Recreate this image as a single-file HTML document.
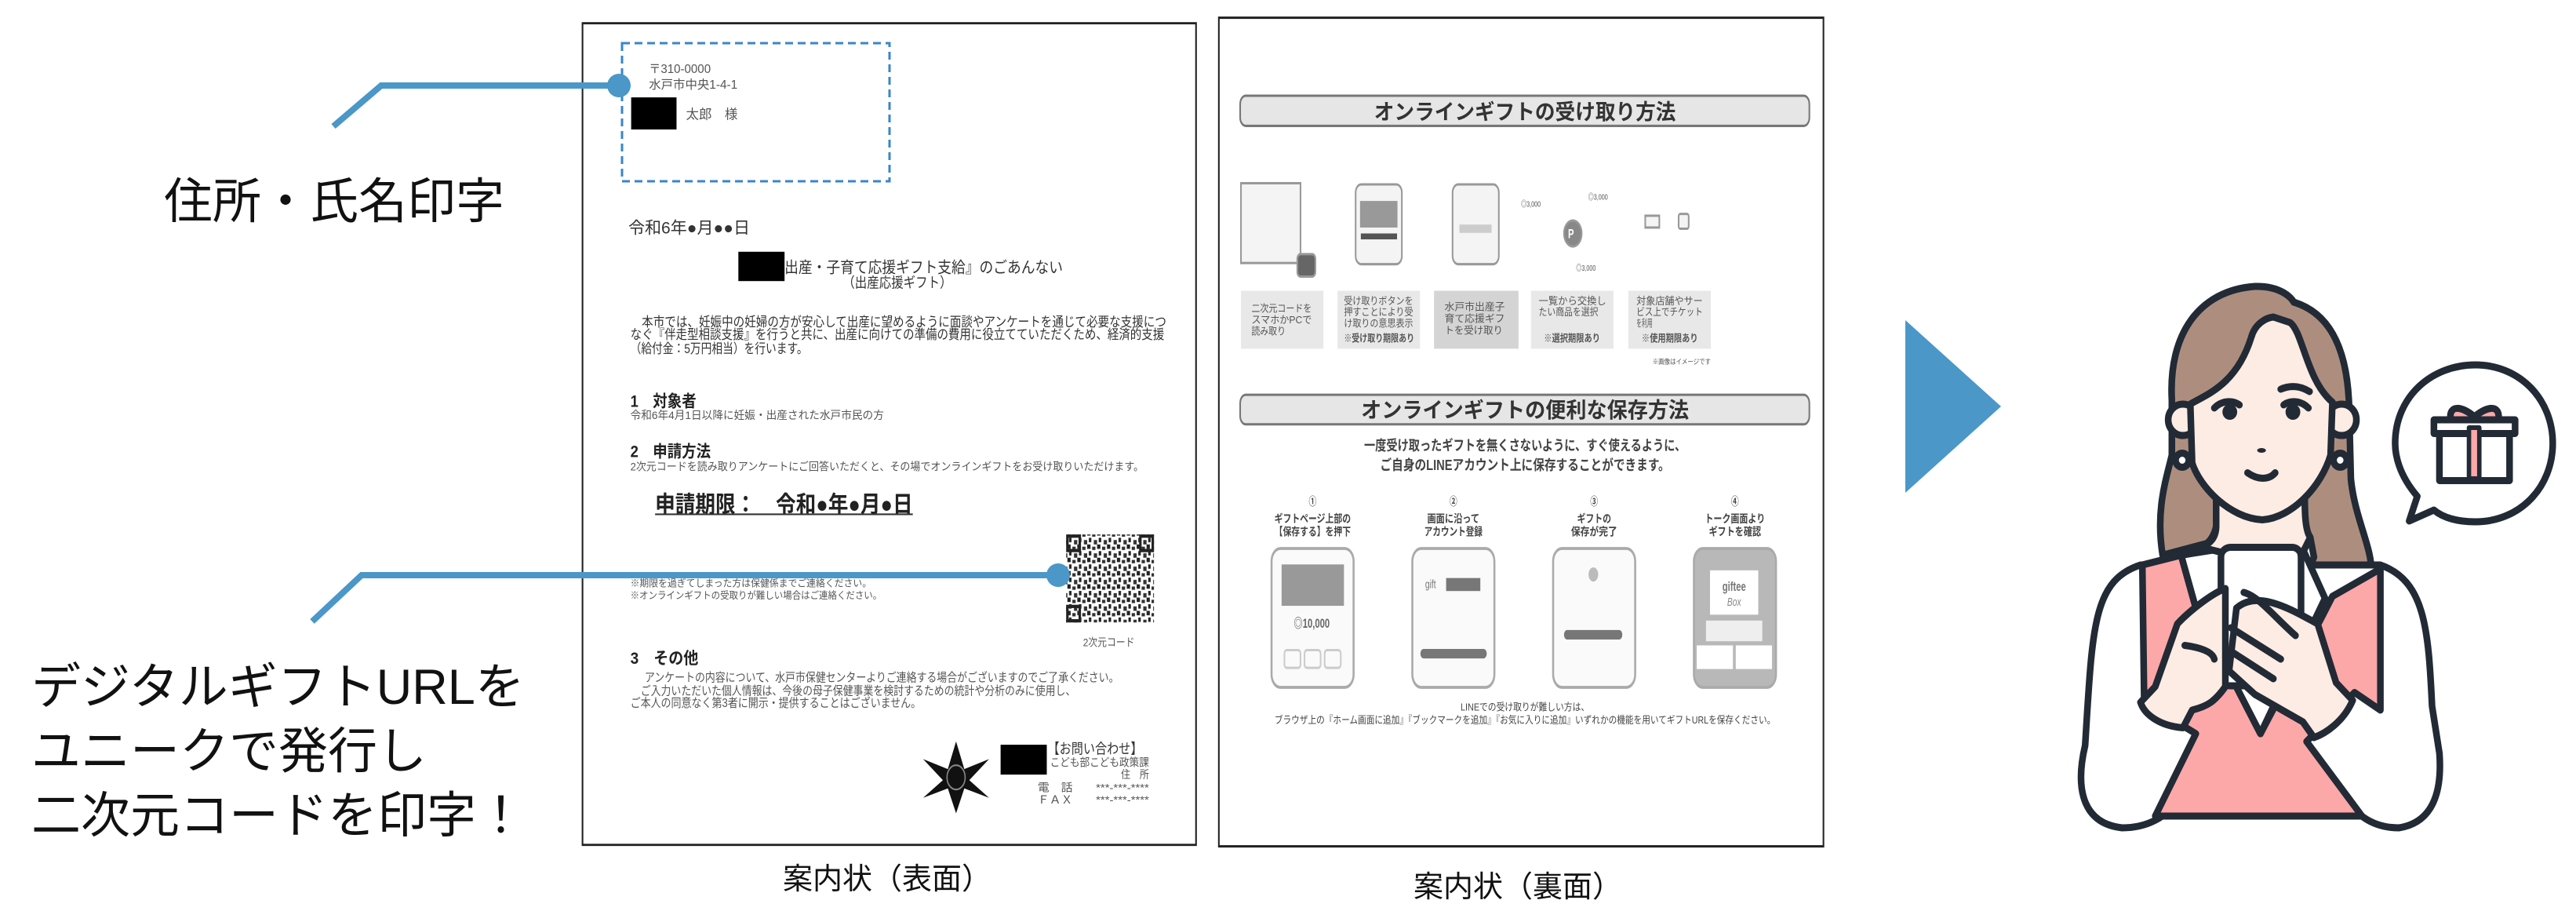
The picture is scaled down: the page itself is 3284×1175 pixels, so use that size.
<!DOCTYPE html>
<html><head><meta charset="utf-8"><style>
html,body{margin:0;padding:0;background:#fff;}
body{width:3284px;height:1175px;position:relative;overflow:hidden;font-family:"Liberation Sans","Noto Sans CJK JP",sans-serif;color:#111;}
.abs{position:absolute;}
.lbl{font-size:62px;white-space:nowrap;line-height:1;}
.cap{font-size:38px;white-space:nowrap;transform:translateX(-50%);line-height:1;}
svg{position:absolute;overflow:visible;}
</style></head><body>

<div class="abs lbl" style="left:209px;top:227px;">住所・氏名印字</div>
<div class="abs lbl" style="left:40px;top:835px;line-height:82px;font-size:63px;">デジタルギフトURLを<br>ユニークで発行し<br>二次元コードを印字！</div>

<div class="abs cap" style="left:1131px;top:1102px;">案内状（表面）</div>
<div class="abs cap" style="left:1935px;top:1112px;">案内状（裏面）</div>

<!-- Doc 1 -->
<svg style="left:730px;top:0" width="820" height="1100" viewBox="0 0 1560 1560" preserveAspectRatio="none">
<defs><pattern id="qr" width="24" height="24" patternUnits="userSpaceOnUse"><rect width="24" height="24" fill="#fff"/><rect x="0" y="0" width="8" height="8" fill="#222"/><rect x="12" y="4" width="8" height="6" fill="#333"/><rect x="4" y="12" width="6" height="8" fill="#222"/><rect x="16" y="16" width="8" height="8" fill="#333"/></pattern></defs>
<rect x="24" y="42" width="1488" height="1485" fill="#fff" stroke="#222" stroke-width="4"/>
<g fill="#555" font-family="Liberation Sans, Noto Sans CJK JP, sans-serif" lengthAdjust="spacingAndGlyphs">
<text x="185" y="132" font-size="22" textLength="150" lengthAdjust="spacingAndGlyphs">〒310-0000</text>
<text x="185" y="160" font-size="22" textLength="215" lengthAdjust="spacingAndGlyphs">水戸市中央1-4-1</text>
<rect x="142" y="176" width="110" height="58" fill="#000"/>
<text x="275" y="215" font-size="24" textLength="125" lengthAdjust="spacingAndGlyphs">太郎　様</text>
<text x="135" y="422" font-size="30" textLength="295" lengthAdjust="spacingAndGlyphs" fill="#333">令和6年●月●●日</text>
<rect x="402" y="455" width="112" height="53" fill="#000"/>
<text x="514" y="493" font-size="28" textLength="675" lengthAdjust="spacingAndGlyphs" fill="#333">出産・子育て応援ギフト支給』のごあんない</text>
<text x="655" y="520" font-size="26" textLength="265" lengthAdjust="spacingAndGlyphs" fill="#333">（出産応援ギフト）</text>
<text x="140" y="590" font-size="24" textLength="1300" lengthAdjust="spacingAndGlyphs" fill="#333">　本市では、妊娠中の妊婦の方が安心して出産に望めるように面談やアンケートを通じて必要な支援につ</text>
<text x="140" y="613" font-size="24" textLength="1295" lengthAdjust="spacingAndGlyphs" fill="#333">なぐ『伴走型相談支援』を行うと共に、出産に向けての準備の費用に役立てていただくため、経済的支援</text>
<text x="140" y="638" font-size="24" textLength="430" lengthAdjust="spacingAndGlyphs" fill="#333">（給付金：5万円相当）を行います。</text>
<text x="140" y="735" font-size="30" font-weight="bold" textLength="160" lengthAdjust="spacingAndGlyphs" fill="#222">1　対象者</text>
<text x="140" y="757" font-size="20" textLength="615" lengthAdjust="spacingAndGlyphs">令和6年4月1日以降に妊娠・出産された水戸市民の方</text>
<text x="140" y="826" font-size="30" font-weight="bold" textLength="195" lengthAdjust="spacingAndGlyphs" fill="#222">2　申請方法</text>
<text x="140" y="850" font-size="20" textLength="1245" lengthAdjust="spacingAndGlyphs">2次元コードを読み取りアンケートにご回答いただくと、その場でオンラインギフトをお受け取りいただけます。</text>
<text x="200" y="926" font-size="42" font-weight="bold" textLength="625" lengthAdjust="spacingAndGlyphs" fill="#222">申請期限：　令和●年●月●日</text>
<rect x="200" y="928" width="625" height="3" fill="#333"/>
<text x="140" y="1060" font-size="18" textLength="585" lengthAdjust="spacingAndGlyphs">※期限を過ぎてしまった方は保健係までご連絡ください。</text>
<text x="140" y="1082" font-size="18" textLength="610" lengthAdjust="spacingAndGlyphs">※オンラインギフトの受取りが難しい場合はご連絡ください。</text>
<rect x="1197" y="966" width="213" height="159" fill="url(#qr)"/>
<rect x="1200" y="969" width="30" height="26" fill="none" stroke="#222" stroke-width="6"/>
<rect x="1377" y="969" width="30" height="26" fill="none" stroke="#222" stroke-width="6"/>
<rect x="1200" y="1096" width="30" height="26" fill="none" stroke="#222" stroke-width="6"/>
<text x="1238" y="1168" font-size="20" textLength="125" lengthAdjust="spacingAndGlyphs">2次元コード</text>
<text x="140" y="1200" font-size="30" font-weight="bold" textLength="165" lengthAdjust="spacingAndGlyphs" fill="#222">3　その他</text>
<text x="175" y="1232" font-size="22" textLength="1150" lengthAdjust="spacingAndGlyphs">アンケートの内容について、水戸市保健センターよりご連絡する場合がございますのでご了承ください。</text>
<text x="165" y="1256" font-size="22" textLength="1055" lengthAdjust="spacingAndGlyphs">ご入力いただいた個人情報は、今後の母子保健事業を検討するための統計や分析のみに使用し、</text>
<text x="140" y="1278" font-size="22" textLength="705" lengthAdjust="spacingAndGlyphs">ご本人の同意なく第3者に開示・提供することはございません。</text>
<polygon points="930,1340 950,1390 1010,1372 962,1410 1010,1442 950,1425 930,1470 910,1425 850,1442 898,1410 850,1372 910,1390" fill="#111"/>
<circle cx="930" cy="1405" r="22" fill="none" stroke="#888" stroke-width="3"/>
<rect x="1038" y="1346" width="112" height="54" fill="#000"/>
<text x="1152" y="1362" font-size="26" textLength="230" lengthAdjust="spacingAndGlyphs" fill="#333">【お問い合わせ】</text>
<text x="1158" y="1385" font-size="20" textLength="240" lengthAdjust="spacingAndGlyphs">こども部こども政策課</text>
<text x="1330" y="1407" font-size="20" textLength="68" lengthAdjust="spacingAndGlyphs">住　所</text>
<text x="1128" y="1430" font-size="20" textLength="270" lengthAdjust="spacingAndGlyphs">電　話　　***-***-****</text>
<text x="1128" y="1452" font-size="20" textLength="270" lengthAdjust="spacingAndGlyphs">ＦＡＸ　　***-***-****</text>
</g>
</svg>

<!-- Doc 2 -->
<svg style="left:1540px;top:0" width="800" height="1175" viewBox="0 0 1560 1560" preserveAspectRatio="none">
<rect x="27" y="30" width="1503" height="1402" fill="#fff" stroke="#222" stroke-width="4"/>
<g font-family="Liberation Sans, Noto Sans CJK JP, sans-serif" fill="#444">
<rect x="80" y="162" width="1415" height="51" rx="14" fill="#e6e6e6" stroke="#777" stroke-width="4"/>
<text x="788" y="202" font-size="36" font-weight="bold" text-anchor="middle" textLength="750" lengthAdjust="spacingAndGlyphs" fill="#333">オンラインギフトの受け取り方法</text>
<!-- icons -->
<g fill="#f4f4f4" stroke="#999" stroke-width="4">
<rect x="82" y="310" width="148" height="135"/>
<rect x="222" y="430" width="45" height="38" rx="8" fill="#666"/>
<rect x="367" y="312" width="115" height="135" rx="14"/>
<rect x="378" y="340" width="93" height="45" fill="#999" stroke="none"/>
<rect x="380" y="395" width="90" height="10" fill="#555" stroke="none"/>
<rect x="608" y="312" width="115" height="135" rx="14"/>
<rect x="625" y="380" width="80" height="14" fill="#ccc" stroke="none"/>
<circle cx="907" cy="395" r="22" fill="#888"/>
<rect x="1087" y="365" width="35" height="20"/>
<rect x="1170" y="362" width="25" height="25" rx="4"/>
</g>
<text x="778" y="350" font-size="14" fill="#555">◎3,000</text>
<text x="945" y="338" font-size="14" fill="#555">◎3,000</text>
<text x="915" y="458" font-size="14" fill="#555">◎3,000</text>
<text x="895" y="403" font-size="22" fill="#fff" font-weight="bold">P</text>
<g fill="#e8e8e8">
<rect x="82" y="492" width="205" height="98"/>
<rect x="322" y="492" width="205" height="98"/>
<rect x="562" y="492" width="210" height="98" fill="#d4d4d4"/>
<rect x="803" y="492" width="205" height="98"/>
<rect x="1045" y="492" width="205" height="98"/>
</g>
<g font-size="17" fill="#555">
<text x="108" y="528" textLength="150" lengthAdjust="spacingAndGlyphs">二次元コードを</text>
<text x="108" y="547" textLength="150" lengthAdjust="spacingAndGlyphs">スマホかPCで</text>
<text x="108" y="566" textLength="85" lengthAdjust="spacingAndGlyphs">読み取り</text>
<text x="338" y="515" textLength="172" lengthAdjust="spacingAndGlyphs">受け取りボタンを</text>
<text x="338" y="534" textLength="172" lengthAdjust="spacingAndGlyphs">押すことにより受</text>
<text x="338" y="553" textLength="172" lengthAdjust="spacingAndGlyphs">け取りの意思表示</text>
<text x="338" y="578" textLength="175" lengthAdjust="spacingAndGlyphs" font-weight="bold">※受け取り期限あり</text>
<text x="588" y="525" textLength="150" lengthAdjust="spacingAndGlyphs">水戸市出産子</text>
<text x="588" y="545" textLength="150" lengthAdjust="spacingAndGlyphs">育て応援ギフ</text>
<text x="588" y="565" textLength="145" lengthAdjust="spacingAndGlyphs">トを受け取り</text>
<text x="822" y="515" textLength="168" lengthAdjust="spacingAndGlyphs">一覧から交換し</text>
<text x="822" y="534" textLength="148" lengthAdjust="spacingAndGlyphs">たい商品を選択</text>
<text x="835" y="578" textLength="140" lengthAdjust="spacingAndGlyphs" font-weight="bold">※選択期限あり</text>
<text x="1065" y="515" textLength="165" lengthAdjust="spacingAndGlyphs">対象店舗やサー</text>
<text x="1065" y="534" textLength="165" lengthAdjust="spacingAndGlyphs">ビス上でチケット</text>
<text x="1065" y="553" textLength="40" lengthAdjust="spacingAndGlyphs">を利用</text>
<text x="1078" y="578" textLength="140" lengthAdjust="spacingAndGlyphs" font-weight="bold">※使用期限あり</text>
<text x="1105" y="616" font-size="12" textLength="145" lengthAdjust="spacingAndGlyphs">※画像はイメージです</text>
</g>
<rect x="80" y="668" width="1415" height="50" rx="14" fill="#e6e6e6" stroke="#777" stroke-width="4"/>
<text x="788" y="706" font-size="36" font-weight="bold" text-anchor="middle" textLength="815" lengthAdjust="spacingAndGlyphs" fill="#333">オンラインギフトの便利な保存方法</text>
<text x="788" y="762" font-size="24" font-weight="bold" text-anchor="middle" textLength="800" lengthAdjust="spacingAndGlyphs">一度受け取ったギフトを無くさないように、すぐ使えるように、</text>
<text x="788" y="795" font-size="24" font-weight="bold" text-anchor="middle" textLength="720" lengthAdjust="spacingAndGlyphs">ご自身のLINEアカウント上に保存することができます。</text>
<g font-size="19" font-weight="bold" text-anchor="middle" fill="#444">
<text x="260" y="855">①</text><text x="610" y="855">②</text><text x="960" y="855">③</text><text x="1310" y="855">④</text>
<text x="260" y="884" textLength="190" lengthAdjust="spacingAndGlyphs">ギフトページ上部の</text>
<text x="260" y="906" textLength="190" lengthAdjust="spacingAndGlyphs">【保存する】を押下</text>
<text x="610" y="884" textLength="130" lengthAdjust="spacingAndGlyphs">画面に沿って</text>
<text x="610" y="906" textLength="145" lengthAdjust="spacingAndGlyphs">アカウント登録</text>
<text x="960" y="884" textLength="85" lengthAdjust="spacingAndGlyphs">ギフトの</text>
<text x="960" y="906" textLength="115" lengthAdjust="spacingAndGlyphs">保存が完了</text>
<text x="1310" y="884" textLength="150" lengthAdjust="spacingAndGlyphs">トーク画面より</text>
<text x="1310" y="906" textLength="130" lengthAdjust="spacingAndGlyphs">ギフトを確認</text>
</g>
<g fill="#fafafa" stroke="#aaa" stroke-width="5">
<rect x="158" y="928" width="204" height="235" rx="22"/>
<rect x="508" y="928" width="204" height="235" rx="22"/>
<rect x="858" y="928" width="204" height="235" rx="22"/>
<rect x="1208" y="928" width="204" height="235" rx="22" fill="#b8b8b8"/>
</g>
<rect x="183" y="955" width="155" height="70" fill="#999"/>
<text x="258" y="1062" font-size="22" font-weight="bold" text-anchor="middle" fill="#666">◎10,000</text>
<g fill="none" stroke="#ccc" stroke-width="4"><rect x="190" y="1100" width="40" height="30" rx="6"/><rect x="240" y="1100" width="40" height="30" rx="6"/><rect x="290" y="1100" width="40" height="30" rx="6"/></g>
<text x="540" y="995" font-size="20" fill="#777">gift</text>
<rect x="592" y="978" width="85" height="22" fill="#777"/>
<rect x="528" y="1098" width="165" height="16" rx="8" fill="#777"/>
<circle cx="958" cy="972" r="12" fill="#bbb"/>
<rect x="885" y="1066" width="145" height="16" rx="8" fill="#777"/>
<rect x="1248" y="965" width="120" height="75" fill="#fff"/>
<text x="1308" y="1000" font-size="22" font-weight="bold" text-anchor="middle" fill="#777">giftee</text>
<text x="1308" y="1025" font-size="20" text-anchor="middle" fill="#888" font-style="italic">Box</text>
<rect x="1238" y="1050" width="140" height="35" fill="#eee"/>
<rect x="1215" y="1092" width="90" height="40" fill="#fff"/><rect x="1312" y="1092" width="90" height="40" fill="#fff"/>
<text x="788" y="1202" font-size="17" text-anchor="middle" textLength="320" lengthAdjust="spacingAndGlyphs">LINEでの受け取りが難しい方は、</text>
<text x="788" y="1224" font-size="17" text-anchor="middle" textLength="1245" lengthAdjust="spacingAndGlyphs">ブラウザ上の『ホーム画面に追加』『ブックマークを追加』『お気に入りに追加』いずれかの機能を用いてギフトURLを保存ください。</text>
</g>
</svg>

<!-- connectors & arrow -->
<svg style="left:0;top:0" width="3284" height="1175">
<rect x="793" y="55" width="341" height="176" fill="none" stroke="#3a86c8" stroke-width="3" stroke-dasharray="10 6"/>
<polyline points="425,161 486,109 789,109" fill="none" stroke="#4a97c8" stroke-width="8"/>
<circle cx="789" cy="109" r="15" fill="#4a97c8"/>
<polyline points="398,792 461,733 1349,733" fill="none" stroke="#4a97c8" stroke-width="8"/>
<circle cx="1349" cy="733" r="15" fill="#4a97c8"/>
<polygon points="2429,408 2551,518 2429,628" fill="#4a97c8"/>
</svg>

<!-- woman -->
<svg style="left:2550px;top:300px" width="734" height="780" viewBox="0 0 1560 1560" preserveAspectRatio="none">
<g stroke="#222a35" stroke-width="18" stroke-linejoin="round" stroke-linecap="round">
<path d="M465 420 C455 250 540 140 690 130 C760 128 790 160 795 170 C900 200 940 300 945 430 L950 620 C960 720 1010 800 1005 860 C1000 920 950 935 900 925 L850 910 C860 880 830 860 850 820 L840 770 C820 740 820 700 820 670 L590 670 C590 720 590 760 560 785 L440 815 C420 700 450 620 465 560 Z" fill="#ad8e7e"/>
<path d="M230 1300 C250 1000 250 880 380 840 L1030 840 C1150 880 1160 1000 1170 1200 L1190 1320 C1200 1450 1150 1500 1080 1510 C1000 1510 960 1470 920 1420 L500 1420 C450 1490 390 1510 330 1510 C230 1500 200 1420 230 1300 Z" fill="#fff"/>
<path d="M385 840 L490 815 L530 950 L705 1270 L870 975 L900 920 L1030 850 L1030 1210 L960 1165 L830 1290 L980 1480 L420 1480 L530 1270 L390 1190 Z" fill="#fca8a8"/>
<path d="M490 815 L590 800 L820 800 L880 925 L705 1270 L530 950 Z" fill="#fff"/>
<path d="M585 650 L585 740 C585 770 570 785 545 795 L600 808 L820 808 L840 770 C825 750 825 700 825 650 Z" fill="#fdece4"/>
<circle cx="495" cy="470" r="40" fill="#fdece4"/>
<circle cx="925" cy="470" r="40" fill="#fdece4"/>
<path d="M515 430 C560 405 640 380 680 260 C690 225 720 210 740 208 L785 222 C820 245 830 370 900 425 L895 560 C870 640 790 720 710 725 C620 720 540 640 520 580 Z" fill="#fdece4"/>
<circle cx="493" cy="573" r="18" fill="#fff"/>
<circle cx="921" cy="573" r="18" fill="#fff"/>
<path d="M580 440 C600 420 630 420 648 432" fill="none"/>
<path d="M768 432 C785 420 815 420 835 440" fill="none"/>
<path d="M760 392 C790 380 815 385 838 398" fill="none"/>
<path d="M670 605 C700 625 730 622 745 605" fill="none"/>
<path d="M598 820 L598 1130 C598 1145 610 1148 625 1148 L800 1148 C812 1148 815 1140 815 1130 L815 820 C815 805 805 795 790 795 L625 795 C610 795 598 805 598 820 Z" fill="#fff"/>
<path d="M480 990 C520 950 580 910 610 900 L610 1150 C580 1190 560 1200 520 1210 L495 1255 C430 1250 390 1220 380 1190 L420 1150 Z" fill="#fdece4"/>
<path d="M640 950 C700 900 800 960 860 990 L910 1140 L955 1185 C930 1240 880 1270 850 1280 L820 1240 L690 1170 L620 1110 Z" fill="#fdece4"/>
<path d="M660 910 C700 920 740 970 800 1020" fill="none"/>
<path d="M625 1000 L760 1080 M625 1060 L740 1130 M500 1045 C540 1050 575 1060 580 1080" fill="none"/>
<path d="M1130 665 C1080 610 1070 560 1070 530 C1070 410 1170 330 1287 330 C1410 330 1497 420 1497 530 C1497 640 1410 730 1287 730 C1240 730 1200 720 1175 700 L1108 728 Z" fill="#fff"/>
<path d="M1220 470 C1215 430 1250 435 1285 462 C1320 435 1355 430 1350 470 Z" fill="#fca8a8"/>
<rect x="1190" y="500" width="190" height="125" fill="#fff"/>
<rect x="1175" y="470" width="220" height="35" fill="#fff"/>
<rect x="1270" y="490" width="28" height="130" fill="#fca8a8" stroke-width="12"/>
</g>
<g fill="#222a35"><circle cx="622" cy="450" r="20"/><circle cx="793" cy="450" r="20"/><ellipse cx="708" cy="548" rx="12" ry="6"/></g>
</svg>

</body></html>
